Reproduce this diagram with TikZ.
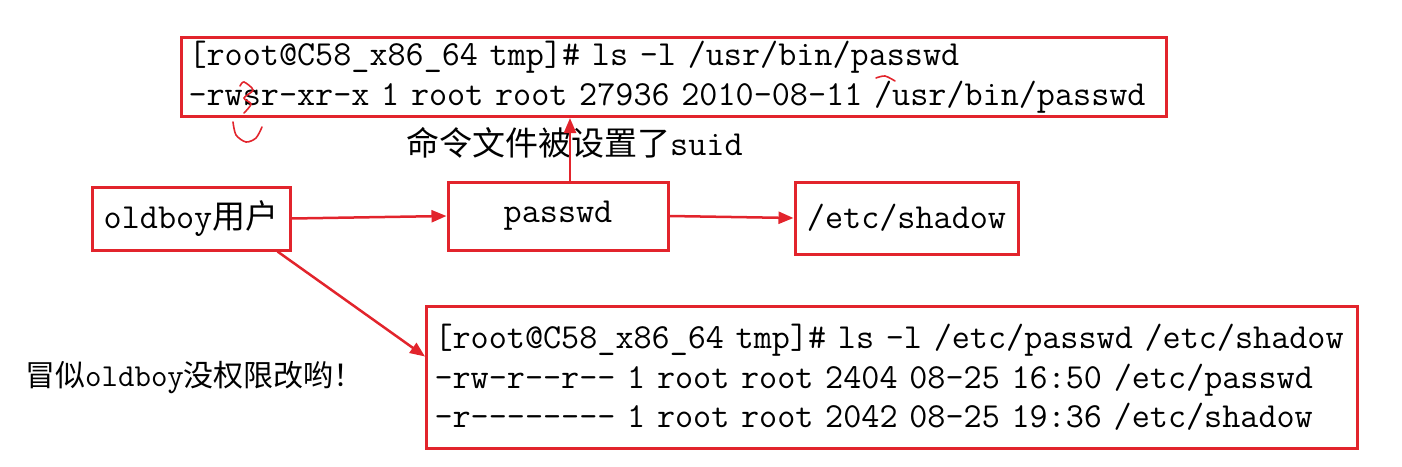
\documentclass[tikz,border=0pt]{standalone}
\usepackage{fontspec}
\usetikzlibrary{arrows.meta}
\newfontfamily\cjk{Noto Sans CJK SC}
\newfontfamily\codefont{Latin Modern Mono}[Scale=1.065]
\newcommand\zh[1]{{\cjk #1}}
\definecolor{boxred}{RGB}{226,36,44}
\tikzset{
  codebox/.style={draw=boxred, line width=3pt, inner xsep=7pt, inner ysep=0pt,
    align=left, font=\codefont\fontsize{33}{39.5}\selectfont},
  namebox/.style={draw=boxred, line width=3pt, inner sep=0pt,
    font=\codefont\fontsize{33}{39.5}\selectfont},
  arr/.style={draw=boxred, line width=2.5pt, -{Triangle[length=15pt,width=12pt]}},
  scribble/.style={draw=boxred, line width=1.6pt, line cap=round}
}
\begin{document}
\begin{tikzpicture}[x=1pt,y=-1pt]
  \useasboundingbox (0,0) rectangle (1402,466);
  \node[codebox, anchor=north west, text width=971pt, minimum height=79] (top) at (180,36)
    {[root@C58\_x86\_64 tmp]\# ls -l /usr/bin/passwd\\
     -rwsr-xr-x 1 root root 27936 2010-08-11 /usr/bin/passwd};
  \node[codebox, anchor=north west, inner xsep=8pt, text width=915pt, minimum height=142] (bot) at (425,305)
    {[root@C58\_x86\_64 tmp]\# ls -l /etc/passwd /etc/shadow\\
     -rw-r--r-- 1 root root 2404 08-25 16:50 /etc/passwd\\
     -r-------- 1 root root 2042 08-25 19:36 /etc/shadow};
  \node[namebox, minimum width=198, minimum height=63] (old) at (191,218.5) {oldboy\zh{用户}};
  \node[namebox, minimum width=220, minimum height=68] (pw) at (558,216) {passwd};
  \node[namebox, minimum width=223, minimum height=72] (sh) at (906.5,218) {/etc/shadow};
  \node[anchor=west, inner sep=0pt, font=\codefont\fontsize{33}{39.5}\selectfont] (suid) at (406,143)
    {\zh{命令文件被设置了}suid};
  \node[anchor=west, inner sep=0pt, font=\codefont\fontsize{30}{36}\selectfont] (note) at (25,378)
    {\zh{冒似}oldboy\zh{没权限改哟！}};
  \coordinate (up) at ([xshift=12pt]pw.north);
  \begin{scope}
    \draw[arr] (old.east) -- (pw.west);
    \draw[arr] (pw.east) -- (sh.west);
    \draw[arr] (up) -- (up |- top.south);
    \draw[arr] ([xshift=-14pt]old.south east) -- ([yshift=21pt]bot.west);
  \end{scope}
  % hand marks
  \draw[scribble] plot[smooth] coordinates {(240,86) (244,82) (253,90) (244,98) (251,104) (244,113)};
  \draw[scribble] plot[smooth] coordinates {(233,122) (236,135) (246,142) (256,138) (262,127)};
  \draw[scribble] plot[smooth] coordinates {(876,78) (885,76) (895,81)};
\end{tikzpicture}
\end{document}
